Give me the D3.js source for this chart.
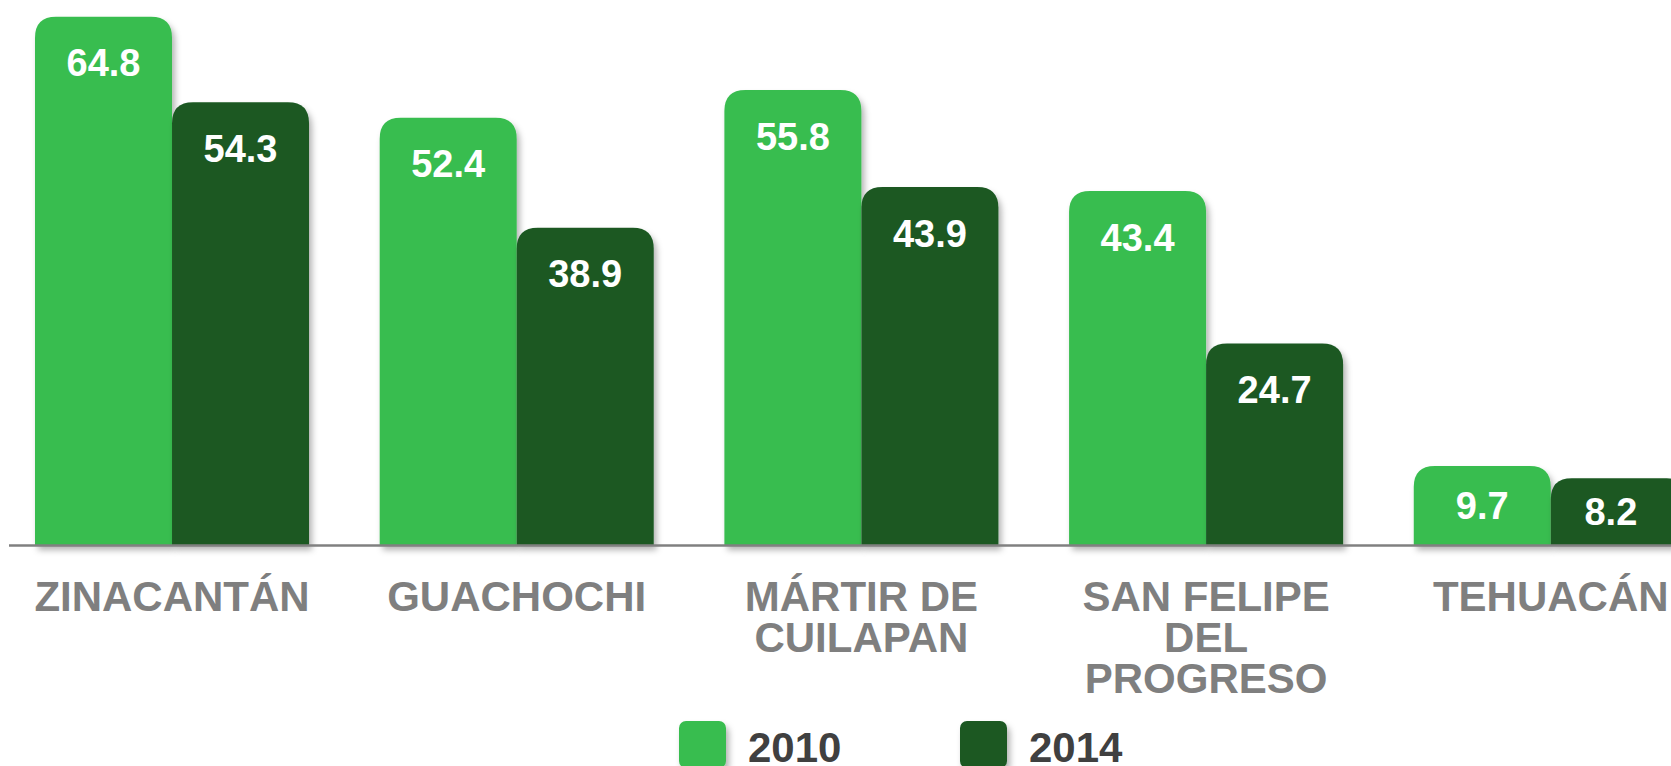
<!DOCTYPE html>
<html>
<head>
<meta charset="utf-8">
<script src="https://cdn.jsdelivr.net/npm/d3@7"></script>
<style>
  html, body { margin: 0; padding: 0; background: #fff; overflow: hidden; }
  text { font-family: "Liberation Sans", Arial, sans-serif; font-weight: bold; }
</style>
</head>
<body>
<div id="chart"></div>
<script>
var width = 1671, height = 766;

var categories = ["ZINACANTÁN", "GUACHOCHI", "MÁRTIR DE CUILAPAN", "SAN FELIPE DEL PROGRESO", "TEHUACÁN"];
var categoryLines = [["ZINACANTÁN"], ["GUACHOCHI"], ["MÁRTIR DE", "CUILAPAN"], ["SAN FELIPE", "DEL", "PROGRESO"], ["TEHUACÁN"]];
var series = ["2010", "2014"];
var values2010 = [64.8, 52.4, 55.8, 43.4, 9.7];
var values2014 = [54.3, 38.9, 43.9, 24.7, 8.2];
var colors = ["#39bd4f", "#1b5924"];

var baseY = 545;

var svg = d3.select("#chart")
  .append("svg")
    .attr("width", width)
    .attr("height", height);

// soft shadow under bars and legend swatches
var defs = svg.append("defs");
var f = defs.append("filter")
    .attr("id", "shadow")
    .attr("x", "-10%").attr("y", "-10%")
    .attr("width", "130%").attr("height", "130%");
f.append("feDropShadow")
    .attr("dx", 3).attr("dy", 5)
    .attr("stdDeviation", 3)
    .attr("flood-color", "#000")
    .attr("flood-opacity", 0.3);

// scales
var x0 = d3.scaleBand()
  .domain(categories)
  .range([35, 35 + 1652.8])
  .paddingInner(0.205)
  .paddingOuter(0);

var x1 = d3.scaleBand()
  .domain(series)
  .range([0, x0.bandwidth()]);

var y = d3.scaleLinear()
  .domain([0, 65])
  .range([baseY, 15]);

var color = d3.scaleOrdinal().domain(series).range(colors);

var data = categories.map(function(c, i) {
  return { cat: c, lines: categoryLines[i], vals: [
    { s: "2010", v: values2010[i] },
    { s: "2014", v: values2014[i] }
  ]};
});

// bar with rounded top corners
function topRounded(x, yTop, w, h, r) {
  r = Math.min(r, w / 2, h);
  return "M" + x + "," + (yTop + h) +
    "V" + (yTop + r) +
    "Q" + x + "," + yTop + " " + (x + r) + "," + yTop +
    "H" + (x + w - r) +
    "Q" + (x + w) + "," + yTop + " " + (x + w) + "," + (yTop + r) +
    "V" + (yTop + h) + "Z";
}

var groups = svg.append("g")
  .selectAll("g")
  .data(data)
  .enter()
  .append("g")
    .attr("transform", function(d) { return "translate(" + x0(d.cat) + ",0)"; });

groups.selectAll("path")
  .data(function(d) { return d.vals; })
  .enter()
  .append("path")
    .attr("d", function(d) {
      return topRounded(x1(d.s), y(d.v), x1.bandwidth(), baseY - y(d.v), 21);
    })
    .style("fill", function(d) { return color(d.s); })
    .attr("filter", "url(#shadow)");

// axis line
svg.append("line")
  .attr("x1", 9).attr("x2", width)
  .attr("y1", baseY + 0.5).attr("y2", baseY + 0.5)
  .style("stroke", "#808080")
  .style("stroke-width", 2.5);

// value labels
groups.each(function(g) {
  var gx = x0(g.cat);
  d3.select(this).selectAll("text.val")
    .data(g.vals)
    .enter()
    .append("text")
      .attr("class", "val")
      .attr("text-anchor", "middle")
      .attr("x", function(d) {
        var left = x1(d.s), right = Math.min(left + x1.bandwidth(), width - gx);
        return (left + right) / 2;
      })
      .attr("y", function(d) {
        var top = y(d.v);
        var c = Math.min(top + 46, (top + baseY) / 2);
        return c + 13.5;
      })
      .style("fill", "#fff")
      .style("font-size", "38px")
      .text(function(d) { return d.v.toFixed(1); });
});

// category labels
groups.append("text")
  .attr("text-anchor", "middle")
  .attr("x", x0.bandwidth() / 2)
  .attr("y", 611)
  .style("fill", "#7f7f7f")
  .style("font-size", "42px")
  .selectAll("tspan")
  .data(function(d) { return d.lines; })
  .enter()
  .append("tspan")
    .attr("x", x0.bandwidth() / 2)
    .attr("dy", function(d, i) { return i === 0 ? 0 : 41; })
    .text(function(d) { return d; });

// legend
var legendX = [679, 960];
var legend = svg.append("g")
  .selectAll("g")
  .data(series)
  .enter()
  .append("g")
    .attr("transform", function(d, i) { return "translate(" + legendX[i] + ",721)"; });

legend.append("rect")
  .attr("width", 47).attr("height", 47)
  .attr("rx", 7).attr("ry", 7)
  .style("fill", function(d) { return color(d); })
  .attr("filter", "url(#shadow)");

legend.append("text")
  .attr("x", 69)
  .attr("y", 41)
  .style("fill", "#404040")
  .style("font-size", "42px")
  .text(function(d) { return d; });
</script>
</body>
</html>
